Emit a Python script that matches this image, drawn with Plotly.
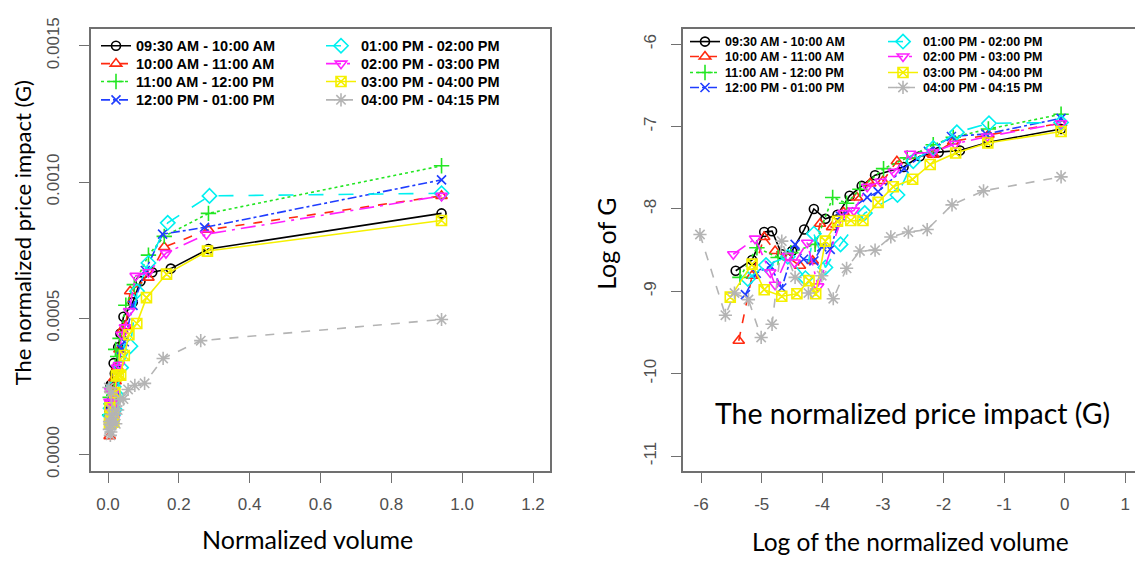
import numpy as np
import plotly.graph_objects as go

W, H = 1135, 561

periods = ["09:30 AM - 10:00 AM", "10:00 AM - 11:00 AM", "11:00 AM - 12:00 PM", "12:00 PM - 01:00 PM",
           "01:00 PM - 02:00 PM", "02:00 PM - 03:00 PM", "03:00 PM - 04:00 PM", "04:00 PM - 04:15 PM"]

# log of normalized volume (x) and log of normalized price impact G (y), per period
logvol_0930 = [-5.43, -5.16, -4.96, -4.83, -4.67, -4.50, -4.30, -4.14, -3.95, -3.75, -3.55, -3.35, -3.13, -2.66, -2.39, -2.08, -1.73, -1.26, -0.06]
logg_0930 = [-8.75, -8.62, -8.28, -8.27, -8.55, -8.51, -8.25, -8.00, -8.12, -8.07, -7.84, -7.72, -7.59, -7.49, -7.36, -7.31, -7.29, -7.19, -7.03]

logvol_1000 = [-5.38, -5.16, -4.96, -4.78, -4.56, -4.37, -4.16, -4.04, -3.84, -3.65, -3.43, -3.21, -3.00, -2.77, -2.17, -1.84, -1.26, -0.06]
logg_1000 = [-9.60, -8.81, -8.34, -8.51, -8.59, -8.69, -8.63, -8.18, -8.22, -8.04, -7.86, -7.69, -7.66, -7.42, -7.34, -7.18, -7.10, -6.96]

logvol_1100 = [-5.36, -5.08, -4.73, -4.52, -4.12, -3.83, -3.60, -3.38, -2.99, -2.60, -2.17, -1.84, -1.26, -0.06]
logg_1100 = [-8.83, -8.47, -8.59, -8.53, -8.43, -7.86, -7.93, -7.76, -7.51, -7.38, -7.22, -7.13, -7.03, -6.85]

logvol_1200 = [-5.27, -5.09, -4.86, -4.67, -4.45, -4.31, -4.14, -4.01, -3.87, -3.70, -3.26, -3.08, -2.65, -2.25, -1.87, -1.30, -0.06]
logg_1200 = [-9.04, -8.78, -8.69, -8.96, -8.43, -8.61, -8.63, -8.46, -8.49, -8.09, -7.86, -7.79, -7.51, -7.30, -7.12, -7.09, -6.90]

logvol_1300 = [-5.23, -4.93, -4.57, -4.28, -4.14, -3.95, -3.70, -3.30, -2.76, -2.50, -2.17, -1.78, -1.25, -0.06]
logg_1300 = [-8.85, -8.68, -8.58, -8.84, -8.30, -8.71, -8.43, -8.05, -7.83, -7.42, -7.26, -7.07, -6.96, -6.95]

logvol_1400 = [-5.47, -5.11, -4.86, -4.78, -4.57, -4.46, -4.25, -4.07, -3.65, -3.48, -3.26, -3.04, -2.82, -2.55, -2.17, -1.81, -1.28, -0.06]
logg_1400 = [-8.55, -8.36, -8.77, -8.92, -8.57, -8.65, -8.41, -8.94, -8.05, -8.02, -7.73, -7.67, -7.55, -7.33, -7.31, -7.21, -7.12, -6.96]

logvol_1500 = [-5.52, -5.16, -4.96, -4.67, -4.42, -4.22, -4.11, -3.95, -3.75, -3.53, -3.33, -3.08, -2.83, -2.51, -2.22, -1.80, -1.27, -0.06]
logg_1500 = [-9.07, -8.67, -8.98, -9.06, -9.03, -8.87, -9.03, -8.39, -8.15, -8.14, -8.14, -7.92, -7.73, -7.64, -7.46, -7.32, -7.20, -7.06]

logvol_1600 = [-6.02, -5.60, -5.45, -5.22, -5.01, -4.83, -4.67, -4.45, -4.23, -4.01, -3.82, -3.60, -3.38, -3.13, -2.87, -2.58, -2.27, -1.86, -1.34, -0.06]
logg_1600 = [-8.31, -9.29, -9.02, -9.10, -9.56, -9.40, -8.39, -8.83, -9.02, -8.81, -9.09, -8.72, -8.51, -8.50, -8.34, -8.28, -8.25, -7.95, -7.78, -7.61]

log_x_series = [logvol_0930, logvol_1000, logvol_1100, logvol_1200, logvol_1300, logvol_1400, logvol_1500, logvol_1600]
log_y_series = [logg_0930, logg_1000, logg_1100, logg_1200, logg_1300, logg_1400, logg_1500, logg_1600]

left_xticks = [0.0, 0.2, 0.4, 0.6, 0.8, 1.0, 1.2]
left_xticktext = ["0.0", "0.2", "0.4", "0.6", "0.8", "1.0", "1.2"]
left_yticks = [0.0, 0.0005, 0.0010, 0.0015]
left_yticktext = ["0.0000", "0.0005", "0.0010", "0.0015"]
right_xticks = [-6, -5, -4, -3, -2, -1, 0, 1]
right_xticktext = ["-6", "-5", "-4", "-3", "-2", "-1", "0", "1"]
right_yticks = [-11, -10, -9, -8, -7, -6]
right_yticktext = ["-11", "-10", "-9", "-8", "-7", "-6"]

colors = ["#000000", "#ff2a10", "#22e622", "#1f3dff", "#00f0f0", "#ff20ff", "#f5f000", "#b4b4b4"]
dashes = ["solid", "dash", "dot", "dashdot", "longdash", "longdashdot", "solid", "dash"]
symbols = ["circle-open", "triangle-up-open", "cross-thin-open", "x-thin-open",
           "diamond-open", "triangle-down-open", "square-x-open", "asterisk-open"]
msizes = [9, 10, 11, 9, 11, 10, 10, 11]


def legend_id(n):
    return "legend" if n == 1 else f"legend{n}"


fig = go.Figure()

for i in range(8):
    lx = np.array(log_x_series[i])
    ly = np.array(log_y_series[i])
    col = colors[i]
    common = dict(mode="lines+markers",
                  line=dict(color=col, width=1.6, dash=dashes[i]),
                  marker=dict(symbol=symbols[i], size=msizes[i], color=col,
                              line=dict(color=col, width=1.6)),
                  name=periods[i])
    fig.add_trace(go.Scatter(x=np.exp(lx), y=np.exp(ly), xaxis="x", yaxis="y",
                             legend=legend_id(i + 1), **common))
    fig.add_trace(go.Scatter(x=lx, y=ly, xaxis="x2", yaxis="y2",
                             legend=legend_id(i + 9), **common))

axcol = "#707070"
tickfont = dict(family="Liberation Sans, Arial, sans-serif", size=17, color="#505050")
base = dict(showline=True, linecolor=axcol, linewidth=1.5, ticks="outside", ticklen=10,
            tickwidth=1.3, tickcolor=axcol, showgrid=False, zeroline=False, tickfont=tickfont)

ydom = [1 - 475 / H, 1 - 18 / H]

fig.update_layout(
    width=W, height=H,
    margin=dict(l=0, r=0, t=0, b=0),
    paper_bgcolor="white", plot_bgcolor="white",
    xaxis=dict(base, domain=[91 / W, 550 / W], range=[-0.048, 1.248], tickvals=left_xticks,
               ticktext=left_xticktext, mirror=True, anchor="y", ticklabelstandoff=7),
    yaxis=dict(base, domain=ydom, range=[-0.00006, 0.00156], tickvals=left_yticks,
               ticktext=left_yticktext, mirror=True, anchor="x", tickangle=-90, ticklabelstandoff=13),
    xaxis2=dict(base, domain=[683 / W, 1.0], range=[-6.3, 1.16], tickvals=right_xticks,
                ticktext=right_xticktext, mirror=True, anchor="y2", ticklabelstandoff=7),
    yaxis2=dict(base, domain=ydom, range=[-11.18, -5.82], tickvals=right_yticks,
                ticktext=right_yticktext, mirror=False, anchor="x2", tickangle=-90, ticklabelstandoff=8),
    showlegend=True,
)

legfont_l = dict(family="Liberation Sans, Arial, sans-serif", size=14.5, color="black", weight="bold")
legfont_r = dict(family="Liberation Sans, Arial, sans-serif", size=12.5, color="black", weight="bold")
legbase = dict(xanchor="left", yanchor="middle", bgcolor="rgba(0,0,0,0)", borderwidth=0,
               orientation="v", itemclick=False, itemdoubleclick=False)

left_cols = [96, 321]
left_rows = [35, 53.5, 72, 91]
right_cols = [685, 883]
right_rows = [31, 46.5, 63, 78.5]
leg_layout = {}
for i in range(8):
    c, r = i // 4, i % 4
    leg_layout[legend_id(i + 1)] = dict(legbase, x=left_cols[c] / W, y=1 - left_rows[r] / H, font=legfont_l)
    leg_layout[legend_id(i + 9)] = dict(legbase, x=right_cols[c] / W, y=1 - right_rows[r] / H, font=legfont_r)
fig.update_layout(**leg_layout)

titlefont = "Lato, 'Open Sans', sans-serif"
annos = [
    dict(text="Normalized volume", x=307 / W, y=1 - 545 / H, size=25, angle=0),
    dict(text="The normalized price impact (G)", x=22 / W, y=1 - 229 / H, size=22, angle=-90),
    dict(text="Log of G", x=606 / W, y=1 - 240 / H, size=25, angle=-90),
    dict(text="Log of the normalized volume", x=910 / W, y=1 - 548 / H, size=24.5, angle=0),
    dict(text="The normalized price impact (G)", x=912 / W, y=1 - 415 / H, size=28.5, angle=0),
]
for a in annos:
    fig.add_annotation(text=a["text"], x=a["x"], y=a["y"], xref="paper", yref="paper",
                       showarrow=False, xanchor="center", yanchor="middle", textangle=a["angle"],
                       font=dict(family=titlefont, size=a["size"], color="black"))

fig.write_html("out.html")
